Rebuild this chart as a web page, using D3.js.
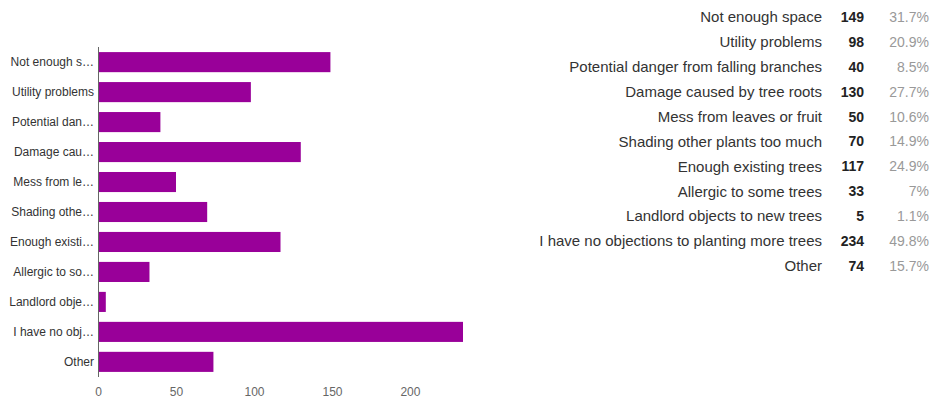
<!DOCTYPE html>
<html>
<head>
<meta charset="utf-8">
<script src="https://cdn.jsdelivr.net/npm/d3@7"></script>
<style>
  body { margin: 0; background: #fff; }
  svg { display: block; font-family: Arial, "Liberation Sans", sans-serif; }
</style>
</head>
<body>
<div id="chart"></div>
<script>
// answers, counts, percentages, axis ticks
var answers = ["Not enough space", "Utility problems", "Potential danger from falling branches",
    "Damage caused by tree roots", "Mess from leaves or fruit", "Shading other plants too much",
    "Enough existing trees", "Allergic to some trees", "Landlord objects to new trees",
    "I have no objections to planting more trees", "Other"];
var shortLabels = ["Not enough s\u2026", "Utility problems", "Potential dan\u2026", "Damage cau\u2026",
    "Mess from le\u2026", "Shading othe\u2026", "Enough existi\u2026", "Allergic to so\u2026",
    "Landlord obje\u2026", "I have no obj\u2026", "Other"];
var counts = [149, 98, 40, 130, 50, 70, 117, 33, 5, 234, 74];
var percents = ["31.7%", "20.9%", "8.5%", "27.7%", "10.6%", "14.9%", "24.9%", "7%", "1.1%", "49.8%", "15.7%"];
var xTicks = [0, 50, 100, 150, 200];

drawChart();

function drawChart() {
    var w = 932, h = 401;
    var svg = d3.select("#chart").append("svg").attr("width", w).attr("height", h);

    var x_scale = d3.scaleLinear().domain([0, 234]).range([98, 463]);
    var y_scale = d3.scaleBand().domain(d3.range(answers.length)).range([47, 377])
        .paddingInner(0.33).paddingOuter(0.17);

    svg.selectAll("rect.bar").data(counts).enter()
        .append("rect")
        .attr("class", "bar")
        .attr("x", x_scale(0))
        .attr("y", function(d, i) { return y_scale(i); })
        .attr("width", function(d) { return x_scale(d) - x_scale(0); })
        .attr("height", y_scale.bandwidth())
        .attr("fill", "#990099");

    // category labels
    var yAxis = svg.append("g").attr("transform", "translate(" + x_scale(0) + ",0)")
        .call(d3.axisLeft(y_scale).tickSize(0).tickPadding(4).tickFormat(function(i) { return shortLabels[i]; }));
    yAxis.select(".domain").attr("stroke", "#666").attr("d", "M0.5,47V377");
    yAxis.selectAll("text").attr("font-size", "12px").attr("fill", "#333").attr("font-family", "Arial, sans-serif");

    var xAxis = svg.append("g").attr("transform", "translate(0,387)")
        .call(d3.axisBottom(x_scale).tickValues(xTicks).tickSize(0).tickPadding(0));
    xAxis.select(".domain").remove();
    xAxis.selectAll("text").attr("font-size", "12px").attr("fill", "#666").attr("font-family", "Arial, sans-serif");

    // summary table on the right
    var rowY = d3.scaleLinear().domain([0, answers.length - 1]).range([17, 266]);
    var rows = svg.append("g").selectAll("g").data(answers).enter().append("g")
        .attr("transform", function(d, i) { return "translate(0," + rowY(i) + ")"; });
    rows.append("text").attr("x", 822).attr("dy", "0.35em").attr("text-anchor", "end")
        .attr("font-size", "15px").attr("fill", "#333").text(function(d) { return d; });
    rows.append("text").attr("x", 864).attr("dy", "0.35em").attr("text-anchor", "end")
        .attr("font-size", "14px").attr("font-weight", "bold").attr("fill", "#222")
        .text(function(d, i) { return counts[i]; });
    rows.append("text").attr("x", 929).attr("dy", "0.35em").attr("text-anchor", "end")
        .attr("font-size", "14px").attr("fill", "#999").text(function(d, i) { return percents[i]; });
}
</script>
</body>
</html>
